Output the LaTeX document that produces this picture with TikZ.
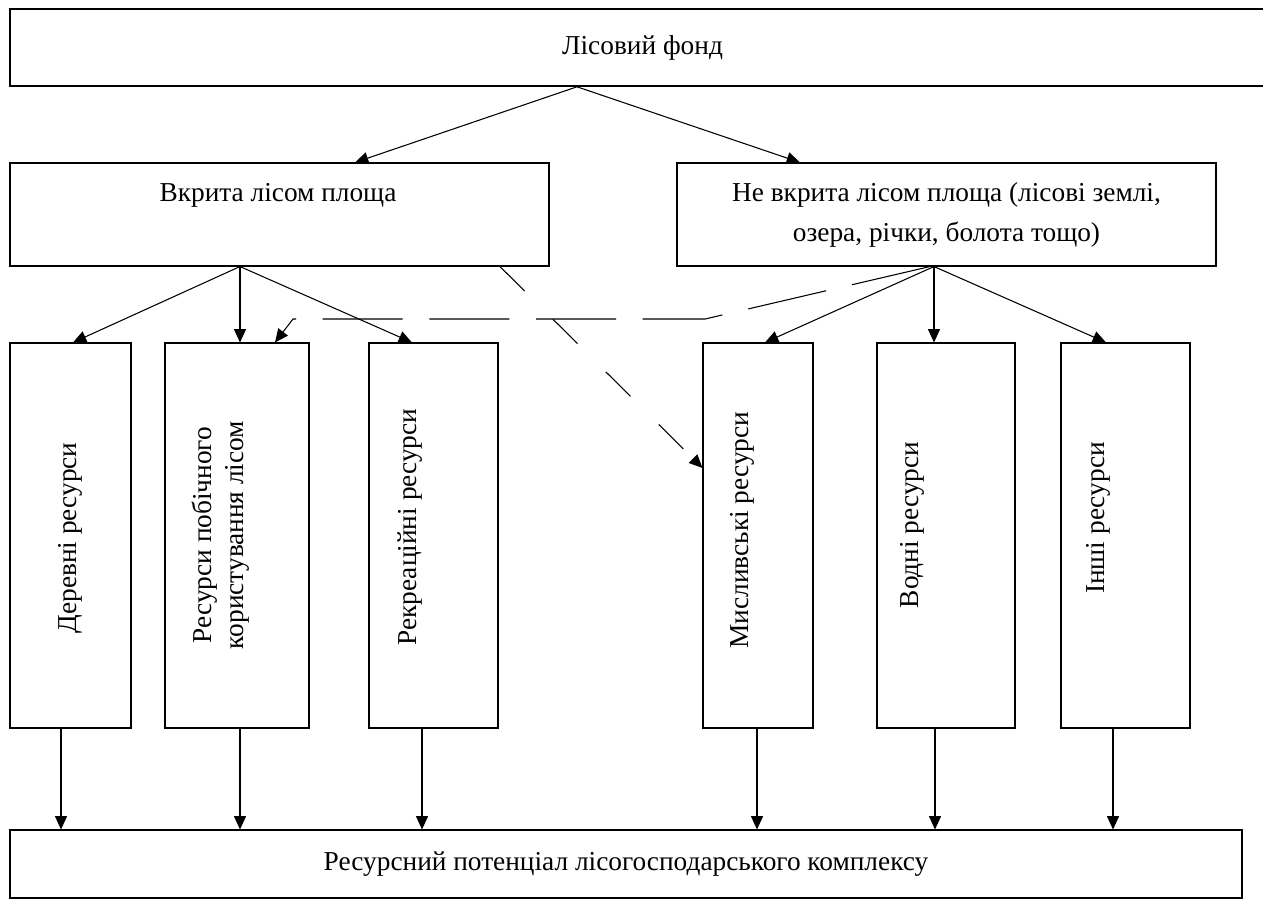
\documentclass[tikz,border=0pt]{standalone}
\usepackage{fontspec}
\setmainfont{Liberation Serif}
\usetikzlibrary{arrows.meta}

\begin{document}
\begin{tikzpicture}[x=0.75pt, y=-0.75pt, line width=0.8pt, >={Triangle[length=10pt, width=9pt]},
    every node/.style={font=\fontsize{20.5}{24}\selectfont},
    blk/.style={draw, inner sep=0pt},
    vtext/.style={rotate=90, align=center, inner sep=0pt},
    dashA/.style={dash pattern=on 26pt off 30pt},
    dashB/.style={dash pattern=on 60pt off 20pt}]
    \useasboundingbox (0, 0) rectangle (1263, 904);
    % top and second row
    \node [blk, line width=1.2pt, minimum width=948.75pt, minimum height=57.75pt] (fond) at (642.5, 47.5) {Лісовий фонд};
    \node [blk, minimum width=404.25pt, minimum height=77.25pt] (vkr) at (279.5, 214.5) {};
    \node (vkrt) at (278, 195) {Вкрита лісом площа};
    \node [blk, align=center, font=\fontsize{20.5}{30}\selectfont, minimum width=404.25pt, minimum height=77.25pt] (nevkr) at (946.5, 214.5) {Не вкрита лісом площа (лісові землі,\\озера, річки, болота тощо)};
    % resource boxes
    \node [blk, minimum width=90.75pt, minimum height=288.75pt] (d1) at (70.5, 535.5) {};
    \node [blk, minimum width=108pt, minimum height=288.75pt] (d2) at (237, 535.5) {};
    \node [blk, minimum width=96.75pt, minimum height=288.75pt] (d3) at (433.5, 535.5) {};
    \node [blk, minimum width=82.5pt, minimum height=288.75pt] (d4) at (758, 535.5) {};
    \node [blk, minimum width=103.5pt, minimum height=288.75pt] (d5) at (946, 535.5) {};
    \node [blk, minimum width=96.75pt, minimum height=288.75pt] (d6) at (1125.5, 535.5) {};
    \node [vtext] (d1t) at (70, 538) {Деревні ресурси};
    \node [vtext] (d2t) at (221, 535) {Ресурси побічного\\користування лісом};
    \node [vtext] (d3t) at (410, 527) {Рекреаційні ресурси};
    \node [vtext] (d4t) at (742, 530) {Мисливські ресурси};
    \node [vtext] (d5t) at (912, 525) {Водні ресурси};
    \node [vtext] (d6t) at (1098, 518) {Інші ресурси};
    \node [blk, minimum width=924pt, minimum height=51pt] (res) at (626, 864) {Ресурсний потенціал лісогосподарського комплексу};
    % arrows
    \draw [->] (fond.south -| 577,0) -- (vkr.north -| 355,0);
    \draw [->] (fond.south -| 577,0) -- (nevkr.north -| 800,0);
    \draw [->] (vkr.south -| 240,0) -- (d1.north -| 73,0);
    \draw [->] (vkr.south -| 240,0) -- (d2.north -| 240,0);
    \draw [->] (vkr.south -| 240,0) -- (d3.north -| 412,0);
    \draw [->] (nevkr.south -| 934,0) -- (d4.north -| 765,0);
    \draw [->] (nevkr.south -| 934,0) -- (d5.north -| 934,0);
    \draw [->] (nevkr.south -| 934,0) -- (d6.north -| 1106,0);
    \foreach \n/\x in {d1/61, d2/240, d3/422, d4/757, d5/935, d6/1113}
        \draw [->] (\n.south -| \x,0) -- (res.north -| \x,0);
    \draw [dashA, ->] (vkr.south -| 500,0) -- (d4.west |- 0,468);
    \draw [dashB, ->] (nevkr.south -| 930,0) -- (705, 319) -- (293, 319) -- (d2.north -| 275,0);
\end{tikzpicture}
\end{document}
